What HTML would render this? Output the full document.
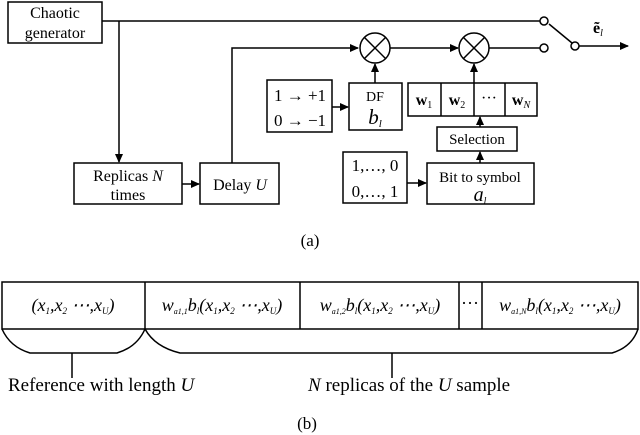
<!DOCTYPE html>
<html><head><meta charset="utf-8"><style>
html,body{margin:0;padding:0;background:#fff;}
svg{display:block;font-family:"Liberation Serif",serif;}
</style></head><body>
<svg width="640" height="435" viewBox="0 0 640 435" xmlns="http://www.w3.org/2000/svg">
<defs><marker id="a" markerWidth="9" markerHeight="8" refX="8" refY="4" orient="auto" markerUnits="userSpaceOnUse"><path d="M0,0 L9,4 L0,8 z" fill="#000"/></marker></defs>
<g fill="none" stroke="#000" stroke-width="1.5">
<rect x="8" y="2" width="94" height="41"/>
<rect x="74" y="163" width="108" height="41"/>
<rect x="200" y="163" width="79" height="41"/>
<rect x="267" y="80" width="65" height="52"/>
<rect x="349" y="83" width="53" height="47"/>
<rect x="408" y="83" width="129" height="33"/>
<line x1="441" y1="83" x2="441" y2="116"/><line x1="474" y1="83" x2="474" y2="116"/><line x1="505" y1="83" x2="505" y2="116"/>
<rect x="437" y="127" width="80" height="24"/>
<rect x="343" y="152" width="64" height="51"/>
<rect x="427" y="163" width="107" height="41"/>
<line x1="102" y1="21" x2="540" y2="21"/>
<line x1="119" y1="21" x2="119" y2="162" marker-end="url(#a)"/>
<line x1="182" y1="184" x2="199" y2="184" marker-end="url(#a)"/>
<polyline points="232,163 232,48 358,48" marker-end="url(#a)"/>
<circle cx="375" cy="48" r="15"/>
<line x1="364" y1="37" x2="386" y2="59"/><line x1="386" y1="37" x2="364" y2="59"/>
<line x1="390" y1="48" x2="458" y2="48" marker-end="url(#a)"/>
<circle cx="474" cy="48" r="15"/>
<line x1="463" y1="37" x2="485" y2="59"/><line x1="485" y1="37" x2="463" y2="59"/>
<line x1="489" y1="48" x2="540" y2="48"/>
<circle cx="544" cy="21" r="4"/><circle cx="544" cy="48" r="4"/><circle cx="575" cy="46" r="4"/>
<line x1="549" y1="24" x2="572" y2="43"/>
<line x1="579" y1="46" x2="628" y2="46" marker-end="url(#a)"/>
<line x1="375" y1="83" x2="375" y2="64" marker-end="url(#a)"/>
<line x1="474" y1="83" x2="474" y2="64" marker-end="url(#a)"/>
<line x1="332" y1="107" x2="348" y2="107" marker-end="url(#a)"/>
<line x1="480" y1="127" x2="480" y2="117" marker-end="url(#a)"/>
<line x1="480" y1="163" x2="480" y2="152" marker-end="url(#a)"/>
<line x1="407" y1="183" x2="426" y2="183" marker-end="url(#a)"/>
<rect x="2" y="282" width="636" height="47"/>
<line x1="145" y1="282" x2="145" y2="329"/><line x1="300" y1="282" x2="300" y2="329"/><line x1="459" y1="282" x2="459" y2="329"/><line x1="482" y1="282" x2="482" y2="329"/>
<path d="M2,329 Q10,347 30,353 L117,353 Q137,347 145,329"/>
<path d="M145,329 Q155,347 180,353 L612,353 Q632,347 638,329"/>
<line x1="72" y1="353" x2="72" y2="378"/><line x1="392" y1="353" x2="392" y2="378"/>
</g>
<g font-size="16" fill="#000" text-anchor="middle">
<text x="55" y="18">Chaotic</text><text x="55" y="38">generator</text>
<text x="128" y="181">Replicas <tspan font-style="italic">N</tspan></text><text x="128" y="200">times</text>
<text x="240" y="190">Delay <tspan font-style="italic">U</tspan></text>
<text x="300" y="101" font-size="17">1 → +1</text><text x="300" y="126" font-size="17">0 → −1</text>
<text x="375" y="101" font-size="14">DF</text><text x="375" y="124" font-style="italic" font-size="21">b<tspan font-size="11" dy="3">l</tspan></text>
<text x="424" y="105" font-weight="bold">w<tspan font-size="10" dy="3" font-weight="normal">1</tspan></text>
<text x="457" y="105" font-weight="bold">w<tspan font-size="10" dy="3" font-weight="normal">2</tspan></text>
<text x="489" y="103">···</text>
<text x="521" y="105" font-weight="bold">w<tspan font-size="10" dy="3" font-weight="normal" font-style="italic">N</tspan></text>
<text x="477" y="144" font-size="15">Selection</text>
<text x="375" y="171" font-size="17">1,…, 0</text><text x="375" y="197" font-size="17">0,…, 1</text>
<text x="480" y="182" font-size="15">Bit to symbol</text><text x="480" y="201" font-style="italic" font-size="20">a<tspan font-size="10" dy="3">l</tspan></text>
<text x="598" y="33" font-weight="bold">ẽ<tspan font-size="10" dy="3" font-style="italic" font-weight="normal">l</tspan></text>
<text x="310" y="246" font-size="17">(a)</text>
<g font-style="italic" font-size="18">
<text x="73" y="311">(x<tspan font-size="9" dy="3">1</tspan><tspan dy="-3">,x</tspan><tspan font-size="9" dy="3">2</tspan><tspan dy="-3"> ⋯,x</tspan><tspan font-size="9" dy="3">U</tspan><tspan dy="-3">)</tspan></text>
<text x="222" y="311">w<tspan font-size="8" dy="3">a1,1</tspan><tspan dy="-3">b</tspan><tspan font-size="9" dy="3">l</tspan><tspan dy="-3">(x</tspan><tspan font-size="9" dy="3">1</tspan><tspan dy="-3">,x</tspan><tspan font-size="9" dy="3">2</tspan><tspan dy="-3"> ⋯,x</tspan><tspan font-size="9" dy="3">U</tspan><tspan dy="-3">)</tspan></text>
<text x="380" y="311">w<tspan font-size="8" dy="3">a1,2</tspan><tspan dy="-3">b</tspan><tspan font-size="9" dy="3">l</tspan><tspan dy="-3">(x</tspan><tspan font-size="9" dy="3">1</tspan><tspan dy="-3">,x</tspan><tspan font-size="9" dy="3">2</tspan><tspan dy="-3"> ⋯,x</tspan><tspan font-size="9" dy="3">U</tspan><tspan dy="-3">)</tspan></text>
<text x="470" y="309" font-style="normal">···</text>
<text x="560" y="311">w<tspan font-size="8" dy="3">a1,N</tspan><tspan dy="-3">b</tspan><tspan font-size="9" dy="3">l</tspan><tspan dy="-3">(x</tspan><tspan font-size="9" dy="3">1</tspan><tspan dy="-3">,x</tspan><tspan font-size="9" dy="3">2</tspan><tspan dy="-3"> ⋯,x</tspan><tspan font-size="9" dy="3">U</tspan><tspan dy="-3">)</tspan></text>
</g>
<text x="8" y="391" text-anchor="start" font-size="19">Reference with length <tspan font-style="italic">U</tspan></text>
<text x="308" y="391" text-anchor="start" font-size="19"><tspan font-style="italic">N</tspan> replicas of the <tspan font-style="italic">U</tspan> sample</text>
<text x="307" y="429" font-size="17">(b)</text>
</g>
</svg>
</body></html>
